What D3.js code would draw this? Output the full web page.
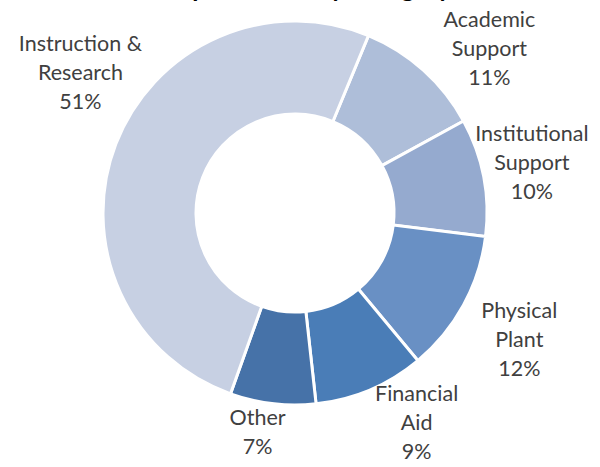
<!DOCTYPE html>
<html>
<head>
<meta charset="utf-8">
<script src="https://cdn.jsdelivr.net/npm/d3@7"></script>
<style>
  html, body { margin: 0; padding: 0; background: #fff; }
  svg { display: block; }
  .label { font-family: Lato, "Open Sans", sans-serif; font-size: 21.5px; fill: #404040; }
  .title { font-family: Lato, "Open Sans", sans-serif; font-size: 25px; font-weight: bold; fill: #000; }
</style>
</head>
<body>
<svg id="chart" width="600" height="467"></svg>
<script>
// data (clockwise from the first slice)
const categories = ['Academic Support', 'Institutional Support', 'Physical Plant', 'Financial Aid', 'Other', 'Instruction & Research'];
const labelLines = [['Academic', 'Support'], ['Institutional', 'Support'], ['Physical', 'Plant'], ['Financial', 'Aid'], ['Other'], ['Instruction &', 'Research']];
const shares = [10.8, 9.9, 12.0, 9.3, 7.2, 50.8];
const titleText = 'Expenditures by Category';

// styles / layout
const palette = ['#aebed9', '#95aacf', '#6990c4', '#4a7db7', '#4672a8', '#c7d0e3'];
// label placement: [angle shift in degrees, distance from centre]
const labelNudge = [[8, 254], [-1, 242], [1, 258], [-7, 243], [3, 223], [12, 256]];

const svg = d3.select('#chart');
const cx = 295;
const cy = 213;
const outerR = 192;
const innerR = 99;
const lineH = 29;

// title sits mostly above the top edge, as in the reference
svg
  .append('text')
  .attr('class', 'title')
  .attr('x', 308)
  .attr('y', -3)
  .attr('text-anchor', 'middle')
  .text(titleText);

const pie = d3
  .pie()
  .sort(null)
  .value((d) => d)
  .startAngle((22.5 * Math.PI) / 180)
  .endAngle((22.5 * Math.PI) / 180 + 2 * Math.PI);

const arcs = pie(shares);
const arc = d3.arc().innerRadius(innerR).outerRadius(outerR);

const g = svg.append('g').attr('transform', `translate(${cx},${cy})`);

g.selectAll('path')
  .data(arcs)
  .join('path')
  .attr('d', arc)
  .attr('fill', (d, i) => palette[i])
  .attr('stroke', '#fff')
  .attr('stroke-width', 3)
  .attr('stroke-linejoin', 'miter');

// labels
arcs.forEach((d, i) => {
  const mid = (d.startAngle + d.endAngle) / 2 + (labelNudge[i][0] * Math.PI) / 180;
  const r = labelNudge[i][1];
  const lx = Math.sin(mid) * r;
  const ly = -Math.cos(mid) * r - 1.5;
  const lines = labelLines[i].concat([`${Math.round(d.data)}%`]);
  const t = g
    .append('text')
    .attr('class', 'label')
    .attr('text-anchor', 'middle');
  lines.forEach((line, k) => {
    t.append('tspan')
      .attr('x', lx)
      .attr('y', ly + (k - (lines.length - 1) / 2) * lineH)
      .attr('dominant-baseline', 'central')
      .text(line);
  });
});
</script>
</body>
</html>
